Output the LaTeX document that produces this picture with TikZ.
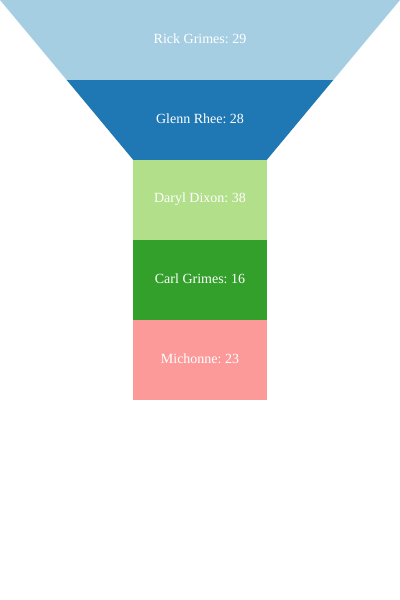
\documentclass[tikz,border=0pt]{standalone}
\usepackage{fontspec}
\setmainfont{Liberation Serif}
\usepackage{xcolor}
\definecolor{rickblue}{HTML}{A6CEE3}
\definecolor{glennblue}{HTML}{1F78B4}
\definecolor{darylgreen}{HTML}{B2DF8A}
\definecolor{carlgreen}{HTML}{33A02C}
\definecolor{michpink}{HTML}{FB9A99}
\usetikzlibrary{positioning}
\frenchspacing

\begin{document}
\begin{tikzpicture}[x=0.75pt, y=-0.75pt,
    label/.style={text=white, font=\fontsize{10.5pt}{12pt}\selectfont}]
    % page frame
    \useasboundingbox (0, 0) rectangle (400, 600);
    \fill[white] (0, 0) rectangle (400, 600);

    % funnel stages
    \fill[rickblue] (0, 0) -- (400, 0) -- (333.3, 80) -- (66.7, 80) -- cycle;
    \fill[glennblue] (66.7, 80) -- (333.3, 80) -- (266.7, 160) -- (133.3, 160) -- cycle;
    \fill[darylgreen] (133.3, 160) rectangle (266.7, 240);
    \fill[carlgreen] (133.3, 240) rectangle (266.7, 320);
    \fill[michpink] (133.3, 320) rectangle (266.7, 400);

    % labels
    \node[label] (rick) at (200, 39) {Rick Grimes: 29};
    \node[label] (glenn) at (200, 119) {Glenn Rhee: 28};
    \node[label] (daryl) at (200, 199) {Daryl Dixon: 38};
    \node[label] (carl) at (200, 279) {Carl Grimes: 16};
    \node[label] (michonne) at (200, 359) {Michonne: 23};
\end{tikzpicture}
\end{document}
